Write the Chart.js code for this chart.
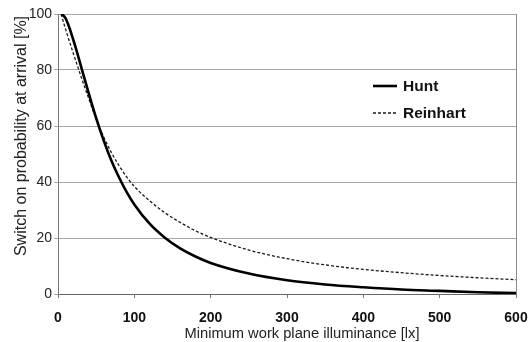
<!DOCTYPE html>
<html>
<head>
<meta charset="utf-8">
<script src="https://cdn.jsdelivr.net/npm/chart.js@4/dist/chart.umd.min.js"></script>
<style>
  html, body { margin: 0; padding: 0; background: #fff; }
  #wrap { width: 530px; height: 342px; position: relative; }
</style>
</head>
<body>
<div id="wrap"><canvas id="chart"></canvas></div>
<script>
// Illuminance values [lx] and switch-on probabilities [%]
const huntLux = [5, 10, 15, 20, 25, 30, 40, 50, 60, 70, 80, 90, 100, 120, 140, 160, 180, 200, 250, 300, 350, 400, 450, 500, 550, 600];
const huntProb = [100, 98.4, 95.0, 90.8, 86.3, 81.5, 71.9, 62.8, 54.7, 47.6, 41.6, 36.4, 32.0, 25.1, 20.1, 16.3, 13.4, 11.1, 7.3, 4.9, 3.4, 2.4, 1.6, 1.1, 0.6, 0.3];

const reinhartLux = [4, 10, 20, 30, 40, 50, 60, 70, 80, 90, 100, 120, 140, 160, 180, 200, 250, 300, 350, 400, 450, 500, 550, 600];
const reinhartProb = [100, 94.5, 86, 77.8, 70, 62.5, 56, 50.5, 45.8, 41.8, 38.4, 33.3, 29, 25.6, 22.6, 20.2, 15.7, 12.6, 10.4, 8.8, 7.6, 6.6, 5.8, 5.1];

const seriesNames = ['Hunt', 'Reinhart'];
const xTicks = [0, 100, 200, 300, 400, 500, 600];
const yTicks = [0, 20, 40, 60, 80, 100];
const xTitle = 'Minimum work plane illuminance [lx]';
const yTitle = 'Switch on probability at arrival [%]';

const FONT = '"Liberation Sans", Arial, sans-serif';

function toPoints(xs, ys) {
    return xs.map((x, i) => ({ x: x, y: ys[i] }));
}

// right frame line + axis titles
const frameAndTitles = {
    id: 'frameAndTitles',
    beforeDatasetsDraw(chart) {
        const a = chart.chartArea;
        const ctx = chart.ctx;
        ctx.save();
        ctx.strokeStyle = '#8a8a8a';
        ctx.lineWidth = 1;
        ctx.beginPath();
        ctx.moveTo(Math.round(a.right) + 0.5, a.top);
        ctx.lineTo(Math.round(a.right) + 0.5, a.bottom);
        ctx.stroke();

        ctx.fillStyle = '#222';
        ctx.textAlign = 'center';
        ctx.textBaseline = 'middle';

        ctx.font = '14.7px ' + FONT;
        ctx.fillText(xTitle, 302, 334);

        ctx.translate(22, 136);
        ctx.rotate(-Math.PI / 2);
        ctx.font = '16px ' + FONT;
        ctx.fillText(yTitle, 0, 0);
        ctx.restore();
    }
};

// legend drawn inside the plot area
const innerLegend = {
    id: 'innerLegend',
    afterDatasetsDraw(chart) {
        const ctx = chart.ctx;
        ctx.save();
        ctx.font = 'bold 15.5px ' + FONT;
        ctx.textBaseline = 'middle';
        ctx.fillStyle = '#111';
        chart.data.datasets.forEach((ds, i) => {
            const y = 86 + i * 27;
            ctx.strokeStyle = ds.borderColor;
            ctx.lineWidth = ds.borderWidth;
            ctx.setLineDash(ds.borderDash || []);
            ctx.beginPath();
            ctx.moveTo(373, y);
            ctx.lineTo(397, y);
            ctx.stroke();
            ctx.setLineDash([]);
            ctx.fillText(ds.label, 403, y + 1);
        });
        ctx.restore();
    }
};

const ctx = document.getElementById('chart');
new Chart(ctx, {
    type: 'line',
    data: {
        datasets: [
            {
                label: seriesNames[0],
                data: toPoints(huntLux, huntProb),
                borderColor: '#000',
                borderWidth: 2.6,
                pointRadius: 0,
                cubicInterpolationMode: 'monotone'
            },
            {
                label: seriesNames[1],
                data: toPoints(reinhartLux, reinhartProb),
                borderColor: '#1a1a1a',
                borderWidth: 1.3,
                borderDash: [3, 2],
                pointRadius: 0,
                cubicInterpolationMode: 'monotone'
            }
        ]
    },
    options: {
        responsive: true,
        maintainAspectRatio: false,
        animation: false,
        layout: { padding: { left: 0, right: 14, top: 14, bottom: 0 } },
        plugins: {
            legend: { display: false },
            tooltip: { enabled: false }
        },
        scales: {
            x: {
                type: 'linear',
                min: 0,
                max: 600,
                afterBuildTicks: s => { s.ticks = xTicks.map(v => ({ value: v })); },
                afterFit: s => {
                    s.height = 48;
                    s.paddingLeft = 0;
                    s.paddingRight = 0;
                },
                ticks: {
                    color: '#111',
                    font: { family: FONT, size: 14, weight: 'bold' },
                    padding: 12,
                    maxRotation: 0
                },
                grid: { drawOnChartArea: false, tickLength: 4, color: '#777' },
                border: { color: '#666', width: 1 }
            },
            y: {
                min: 0,
                max: 100,
                afterBuildTicks: s => { s.ticks = yTicks.map(v => ({ value: v })); },
                afterFit: s => { s.width = 58; },
                ticks: {
                    color: '#222',
                    font: { family: FONT, size: 14 },
                    padding: 2
                },
                grid: { color: '#a5a5a5', tickLength: 4, lineWidth: 1 },
                border: { color: '#777', width: 1 }
            }
        }
    },
    plugins: [frameAndTitles, innerLegend]
});
</script>
</body>
</html>
